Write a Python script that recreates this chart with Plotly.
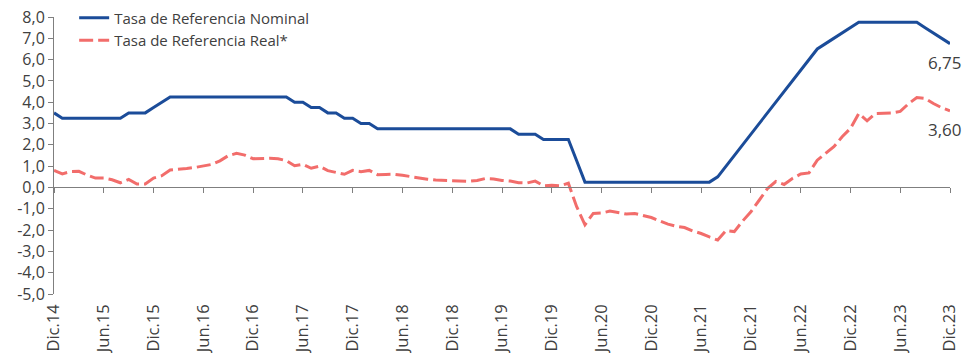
import plotly.graph_objects as go

# Monthly series, Dec-2014 .. Dec-2023
month_abbr = ["Ene", "Feb", "Mar", "Abr", "May", "Jun", "Jul", "Ago", "Sep", "Oct", "Nov", "Dic"]
months = ["Dic.14"] + [f"{month_abbr[m]}.{y % 100:02d}" for y in range(2015, 2024) for m in range(12)]

tasa_nominal = [
    3.50, 3.25, 3.25, 3.25, 3.25, 3.25, 3.25, 3.25, 3.25, 3.50, 3.50, 3.50,
    3.75, 4.00, 4.25, 4.25, 4.25, 4.25, 4.25, 4.25, 4.25, 4.25, 4.25, 4.25,
    4.25, 4.25, 4.25, 4.25, 4.25, 4.00, 4.00, 3.75, 3.75, 3.50, 3.50, 3.25,
    3.25, 3.00, 3.00, 2.75, 2.75, 2.75, 2.75, 2.75, 2.75, 2.75, 2.75, 2.75,
    2.75, 2.75, 2.75, 2.75, 2.75, 2.75, 2.75, 2.75, 2.50, 2.50, 2.50, 2.25,
    2.25, 2.25, 2.25, 1.25, 0.25, 0.25, 0.25, 0.25, 0.25, 0.25, 0.25, 0.25,
    0.25, 0.25, 0.25, 0.25, 0.25, 0.25, 0.25, 0.25, 0.50, 1.00, 1.50, 2.00,
    2.50, 3.00, 3.50, 4.00, 4.50, 5.00, 5.50, 6.00, 6.50, 6.75, 7.00, 7.25,
    7.50, 7.75, 7.75, 7.75, 7.75, 7.75, 7.75, 7.75, 7.75, 7.50, 7.25, 7.00,
    6.75,
]

tasa_real = [
    0.80, 0.64, 0.75, 0.76, 0.58, 0.44, 0.44, 0.36, 0.22, 0.38, 0.16, 0.16,
    0.44, 0.55, 0.82, 0.84, 0.89, 0.94, 1.00, 1.08, 1.25, 1.49, 1.60, 1.52,
    1.35, 1.37, 1.37, 1.35, 1.26, 1.02, 1.09, 0.90, 1.00, 0.79, 0.71, 0.62,
    0.80, 0.74, 0.80, 0.60, 0.61, 0.62, 0.57, 0.50, 0.45, 0.39, 0.35, 0.34,
    0.31, 0.30, 0.29, 0.33, 0.42, 0.40, 0.33, 0.30, 0.22, 0.21, 0.30, 0.08,
    0.10, 0.08, 0.20, -0.90, -1.75, -1.22, -1.20, -1.11, -1.17, -1.25, -1.22, -1.33,
    -1.41, -1.57, -1.72, -1.82, -1.88, -2.04, -2.16, -2.32, -2.47, -2.02, -2.07, -1.58,
    -1.14, -0.60, -0.05, 0.28, 0.14, 0.42, 0.63, 0.68, 1.28, 1.60, 1.91, 2.38,
    2.77, 3.47, 3.13, 3.47, 3.49, 3.50, 3.57, 3.93, 4.22, 4.18, 3.94, 3.74,
    3.60,
]

y_ticks = [8, 7, 6, 5, 4, 3, 2, 1, 0, -1, -2, -3, -4, -5]
y_tick_text = ["8,0", "7,0", "6,0", "5,0", "4,0", "3,0", "2,0", "1,0", "0,0",
               "-1,0", "-2,0", "-3,0", "-4,0", "-5,0"]
x_ticks = months[::6]

BLUE = "#1B4C99"
SALMON = "#F26D6B"
TEXT = "#404040"
AXIS = "#7F7F7F"
FONT = "Open Sans"

y_min, y_max = -5, 8

fig = go.Figure()
fig.add_trace(go.Scatter(
    x=months, y=tasa_nominal, name="Tasa de Referencia Nominal",
    mode="lines", line=dict(color=BLUE, width=3), cliponaxis=False,
))
fig.add_trace(go.Scatter(
    x=months, y=tasa_real, name="Tasa de Referencia Real*",
    mode="lines", line=dict(color=SALMON, width=3, dash="14px,5px"), cliponaxis=False,
))
# invisible helper trace so the zero-crossing axis is drawn
fig.add_trace(go.Scatter(
    x=months, y=[None] * len(months), xaxis="x2", showlegend=False,
    hoverinfo="skip", mode="lines",
))

# end-of-series value labels
for series in (tasa_nominal, tasa_real):
    fig.add_annotation(
        x=months[-1], y=series[-1], text=f"{series[-1]:.2f}".replace(".", ","),
        showarrow=False, xanchor="center", yanchor="middle",
        xshift=-5, yshift=-19, font=dict(family=FONT, size=17, color=TEXT),
    )

fig.update_layout(
    width=974, height=353,
    margin=dict(l=54, r=24, t=17, b=59, autoexpand=False),
    paper_bgcolor="white", plot_bgcolor="white",
    font=dict(family=FONT, color=TEXT),
    showlegend=True,
    legend=dict(
        x=0.0225, y=1.056, xanchor="left", yanchor="top",
        bgcolor="rgba(0,0,0,0)", font=dict(family=FONT, size=15, color=TEXT),
        tracegroupgap=0, itemwidth=30,
    ),
    xaxis=dict(
        type="category", range=[0, len(months) - 1],
        tickmode="array", tickvals=x_ticks, ticktext=x_ticks,
        tickangle=-90, tickfont=dict(family=FONT, size=16.5, color=TEXT),
        showline=False, ticks="", showgrid=False, zeroline=False,
        ticklabelstandoff=6, automargin=False,
    ),
    xaxis2=dict(
        type="category", range=[0, len(months) - 1], overlaying="x",
        anchor="free", position=(0 - y_min) / (y_max - y_min),
        tickmode="array", tickvals=x_ticks, showticklabels=False,
        ticks="outside", ticklen=5, tickcolor=AXIS, tickwidth=1,
        showline=True, linecolor=AXIS, linewidth=1, showgrid=False, zeroline=False,
    ),
    yaxis=dict(
        range=[y_min, y_max], tickmode="array", tickvals=y_ticks, ticktext=y_tick_text,
        tickfont=dict(family=FONT, size=16, color=TEXT),
        showline=True, linecolor=AXIS, linewidth=1,
        ticks="outside", ticklen=5, tickcolor=AXIS,
        showgrid=False, zeroline=False, automargin=False,
    ),
)

fig.write_html("out.html")
